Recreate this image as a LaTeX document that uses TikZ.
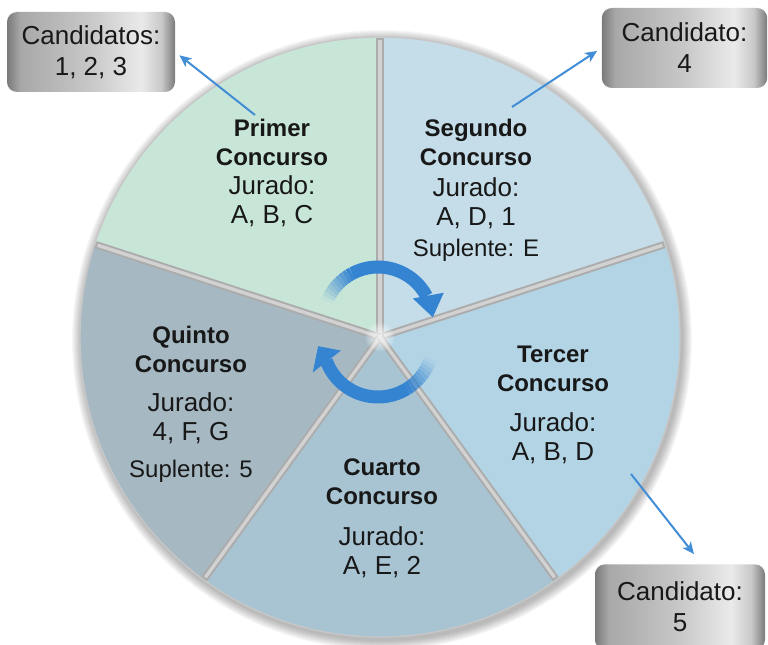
\documentclass[tikz,border=0pt]{standalone}
\usepackage{fontspec}
\setmainfont{Liberation Sans}
\usetikzlibrary{arrows.meta,calc}
\definecolor{cPrimer}{RGB}{200,230,216}
\definecolor{cSegundo}{RGB}{196,221,233}
\definecolor{cTercer}{RGB}{178,212,229}
\definecolor{cCuarto}{RGB}{168,196,211}
\definecolor{cQuinto}{RGB}{166,185,195}
\definecolor{divgray}{RGB}{172,172,172}
\definecolor{divlight}{RGB}{210,210,210}
\definecolor{cycblue}{RGB}{52,132,210}
\definecolor{connblue}{RGB}{66,142,214}
\definecolor{txt}{RGB}{24,24,24}
\definecolor{bxA}{RGB}{122,122,122}
\definecolor{bxB}{RGB}{168,168,168}
\definecolor{bxC}{RGB}{200,200,200}
\definecolor{bxD}{RGB}{234,234,234}
\pgfdeclarehorizontalshading{boxshade}{100bp}{color(0bp)=(bxA); color(25bp)=(bxA); color(29bp)=(bxB); color(50bp)=(bxC); color(65bp)=(bxD); color(71bp)=(bxC); color(75bp)=(bxA); color(100bp)=(bxA)}
\newcommand\ctitle[1]{{\fontsize{18}{21.75}\selectfont\bfseries #1}}
\newcommand\csupl[1]{{\fontsize{18}{21.75}\selectfont #1}}
\tikzset{
  lbl/.style={align=center, text=txt, font=\fontsize{19.5}{21.75}\selectfont, inner sep=0pt},
  cbox/.style={shade, shading=boxshade, rounded corners=7.5pt, minimum width=126pt, minimum height=60pt, align=center, font=\fontsize{19.5}{23.25}\selectfont, text=txt, inner sep=0pt},
  conn/.style={draw=connblue, line width=1.5pt, -{Stealth[length=9pt,width=8pt,inset=2.5pt]}},
  divider/.style={draw=divgray, line width=5.5pt},
  dividerhl/.style={draw=divlight, line width=2.5pt},
  cyc/.style={draw=cycblue, line width=9.75pt},
}
\begin{document}
\begin{tikzpicture}[x=0.75pt,y=0.75pt]
\useasboundingbox (0,0) rectangle (768,644);
\coordinate (C) at (380,307);
% shadow of the disc
\foreach \k in {1,...,10} \fill[black,opacity=0.03] ($(C)+(2,-3)$) circle[radius=300+\k];
% sectors
\fill[cPrimer] (C) -- ++(90:300) arc[start angle=90,end angle=162,radius=300] -- cycle;
\fill[cQuinto] (C) -- ++(162:300) arc[start angle=162,end angle=234,radius=300] -- cycle;
\fill[cCuarto] (C) -- ++(234:300) arc[start angle=234,end angle=306,radius=300] -- cycle;
\fill[cTercer] (C) -- ++(306:300) arc[start angle=306,end angle=378,radius=300] -- cycle;
\fill[cSegundo] (C) -- ++(18:300) arc[start angle=18,end angle=90,radius=300] -- cycle;
\draw[black!22, line width=1pt] (C) circle[radius=300];
% dividers
\foreach \a in {18,90,162,234,306} {
  \draw[divider] (C) -- ++(\a:299);
  \draw[dividerhl] (C) -- ++(\a:297);
}
\foreach \k in {1,...,9} \fill[white,opacity=0.13] (C) circle[radius=1.6*\k];
% circular arrows
\coordinate (U) at (378,322);
\coordinate (L) at (378,302);
\foreach \a in {158,154,...,122} {
  \pgfmathsetmacro\op{(160-\a)/40}
  \draw[cyc, opacity=\op] ($(U)+(\a:55)$) arc[start angle=\a,end angle=\a-4,radius=55];
}
\draw[cyc] ($(U)+(118:55)$) arc[start angle=118,end angle=28,radius=55];
\fill[cycblue] ($(U)+(34:42)$) -- ($(U)+(5:55)$) -- ($(U)+(24:72)$) -- cycle;
\foreach \a in {-18,-22,...,-54} {
  \pgfmathsetmacro\op{(-\a-16)/40}
  \draw[cyc, opacity=\op] ($(L)+(\a:55)$) arc[start angle=\a,end angle=\a-4,radius=55];
}
\draw[cyc] ($(L)+(-58:55)$) arc[start angle=-58,end angle=-160,radius=55];
\fill[cycblue] ($(L)+(205:72)$) -- ($(L)+(184:60)$) -- ($(L)+(193:38)$) -- cycle;
% sector labels
\node[lbl] (t1) at (272,471) {\ctitle{Primer}\\\ctitle{Concurso}\\Jurado:\\A, B, C};
\node[lbl] (t2) at (476,454) {\ctitle{Segundo}\\\ctitle{Concurso}\\[1.5pt]Jurado:\\A, D, 1\\[1.5pt]\csupl{Suplente: E}};
\node[lbl] (t3) at (553,239) {\ctitle{Tercer}\\\ctitle{Concurso}\\[8pt]Jurado:\\A, B, D};
\node[lbl] (t4) at (382,126) {\ctitle{Cuarto}\\\ctitle{Concurso}\\[9pt]Jurado:\\A, E, 2};
\node[lbl] (t5) at (191,240) {\ctitle{Quinto}\\\ctitle{Concurso}\\[7.5pt]Jurado:\\4, F, G\\[6pt]\csupl{Suplente: 5}};
% candidate boxes
\node[cbox] (b1) at (91,592) {Candidatos:\\1, 2, 3};
\node[cbox, minimum width=124pt] (b2) at (684.5,596) {Candidato:\\4};
\node[cbox, minimum width=127.5pt, minimum height=64pt] (b3) at (680,37) {Candidato:\\5};
% connectors
\coordinate (s1) at (255,529);
\coordinate (s2) at (512,537);
\coordinate (s3) at (631,170);
\coordinate (e3) at ($(b3.north)+(14,10)$);
\draw[conn, shorten >=4pt] (s1) -- (b1.east);
\draw[conn, shorten >=4pt] (s2) -- (b2.west);
\draw[conn] (s3) -- (e3);
\end{tikzpicture}
\end{document}
